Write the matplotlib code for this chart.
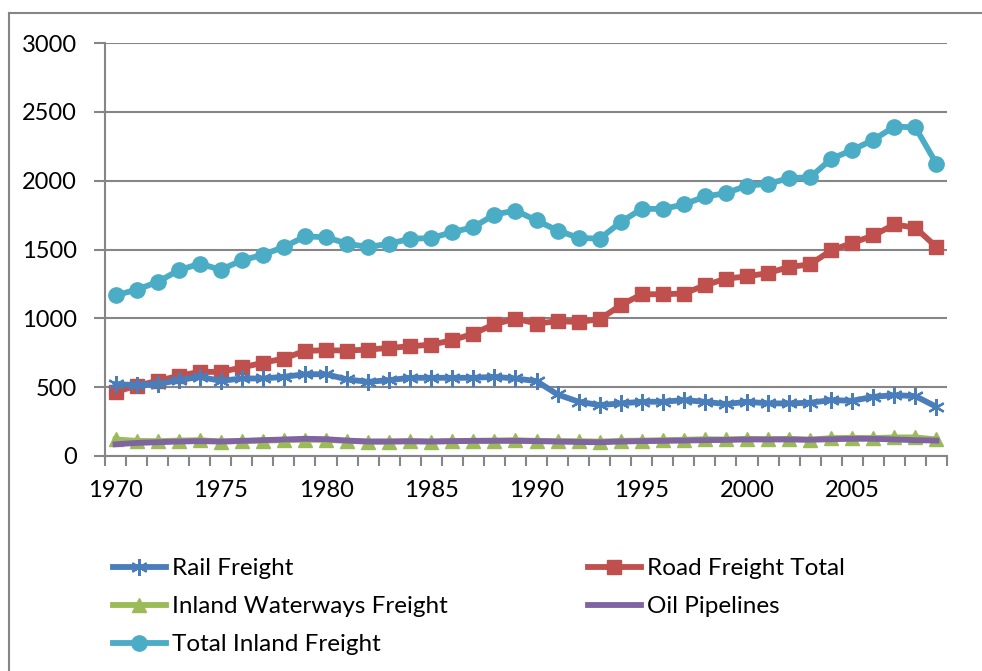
import matplotlib
matplotlib.use("Agg")
import matplotlib.pyplot as plt
from matplotlib.lines import Line2D

plt.rcParams['font.family'] = ['Lato', 'DejaVu Sans']

years = list(range(1970, 2010))

rail = [522, 515, 522, 551, 575, 546, 563, 563, 575, 594,
        594, 556, 539, 551, 568, 568, 568, 568, 575, 563,
        544, 447, 394, 370, 382, 394, 394, 406, 394, 377,
        394, 382, 382, 387, 406, 401, 430, 442, 435, 357]

road = [466, 510, 546, 582, 611, 611, 643, 677, 708, 764,
        768, 766, 773, 785, 797, 809, 841, 889, 957, 998,
        962, 979, 974, 993, 1095, 1175, 1175, 1180, 1240, 1288,
        1305, 1329, 1373, 1392, 1494, 1547, 1602, 1682, 1658, 1518]

waterways = [120, 110, 108, 112, 115, 105, 108, 112, 115, 118,
             117, 110, 105, 105, 108, 105, 108, 110, 112, 115,
             110, 108, 108, 105, 110, 112, 115, 118, 122, 120,
             125, 122, 125, 118, 130, 132, 130, 135, 135, 120]

pipelines = [85, 95, 100, 105, 108, 105, 110, 115, 120, 125,
             122, 112, 105, 105, 107, 105, 108, 110, 110, 110,
             108, 105, 102, 100, 105, 108, 110, 112, 115, 117,
             120, 120, 120, 118, 122, 125, 125, 120, 115, 112]

total = [1167, 1208, 1264, 1349, 1397, 1353, 1421, 1462, 1518, 1595,
         1590, 1542, 1518, 1542, 1578, 1583, 1626, 1662, 1754, 1783,
         1711, 1638, 1585, 1578, 1699, 1795, 1795, 1827, 1885, 1909,
         1964, 1977, 2018, 2025, 2158, 2223, 2296, 2393, 2387, 2122]

labels = ["Rail Freight", "Road Freight Total", "Inland Waterways Freight",
          "Oil Pipelines", "Total Inland Freight"]
xtick_labels = ["1970", "1975", "1980", "1985", "1990", "1995", "2000", "2005"]
yticks = [0, 500, 1000, 1500, 2000, 2500, 3000]

C_RAIL = "#4A7EBB"
C_ROAD = "#C0504D"
C_WAT = "#9BBB59"
C_PIPE = "#8064A2"
C_TOT = "#4BACC6"
GRID = "#868686"

W, H = 982, 671
fig = plt.figure(figsize=(W / 100, H / 100), dpi=100)
ax = fig.add_axes([105 / W, 1 - 456 / H, 842 / W, 413 / H])

lw = 4.2
l_tot, = ax.plot(years, total, color=C_TOT, lw=lw, marker='o', ms=11,
                 mfc=C_TOT, mec=C_TOT, zorder=5)
l_road, = ax.plot(years, road, color=C_ROAD, lw=lw, marker='s', ms=9.5,
                  mfc=C_ROAD, mec=C_ROAD, zorder=5)
l_wat, = ax.plot(years, waterways, color=C_WAT, lw=lw, marker='^', ms=10.5,
                 mfc=C_WAT, mec=C_WAT, zorder=4)
l_rail, = ax.plot(years, rail, color=C_RAIL, lw=lw, marker=(6, 2, 0), ms=12,
                  mfc=C_RAIL, mec=C_RAIL, mew=1.6, zorder=5)
l_pipe, = ax.plot(years, pipelines, color=C_PIPE, lw=lw, zorder=6)

ax.set_xlim(years[0] - 0.5, years[-1] + 0.5)
ax.set_ylim(0, 3000)
ax.set_yticks(yticks)
ax.set_yticklabels([str(v) for v in yticks])
ax.yaxis.grid(True, color=GRID, lw=1.5)
ax.set_axisbelow(True)

label_pos = [int(s) for s in xtick_labels]
ax.set_xticks(label_pos)
ax.set_xticklabels(xtick_labels)
ax.set_xticks([y - 0.5 for y in years] + [years[-1] + 0.5], minor=True)
ax.tick_params(axis='x', which='major', length=0, pad=17, labelsize=17)
ax.tick_params(axis='x', which='minor', length=7, width=1.5, color=GRID, direction='out')
ax.tick_params(axis='y', length=8, width=1.5, color=GRID, pad=12, labelsize=17)

for s in ['top', 'right']:
    ax.spines[s].set_visible(False)
for s in ['left', 'bottom']:
    ax.spines[s].set_color(GRID)
    ax.spines[s].set_linewidth(1.5)

# outer chart border (partially visible)
fig.add_artist(Line2D([9 / W, 9 / W], [0, 1 - 13 / H], transform=fig.transFigure,
                      color=GRID, lw=1.5))
fig.add_artist(Line2D([9 / W, 1], [1 - 13 / H, 1 - 13 / H], transform=fig.transFigure,
                      color=GRID, lw=1.5))

leg_kw = dict(frameon=False, fontsize=17.5, handlelength=2.18, handletextpad=0.25,
              labelspacing=0.7, borderpad=0, borderaxespad=0, loc='upper left')
leg1 = fig.legend([l_rail, l_wat, l_tot], [labels[0], labels[2], labels[4]],
                  bbox_to_anchor=(113 / W, 1 - 558 / H), **leg_kw)
leg2 = fig.legend([l_road, l_pipe], [labels[1], labels[3]],
                  bbox_to_anchor=(588 / W, 1 - 558 / H), **leg_kw)

fig.savefig("out.png", dpi=100)
